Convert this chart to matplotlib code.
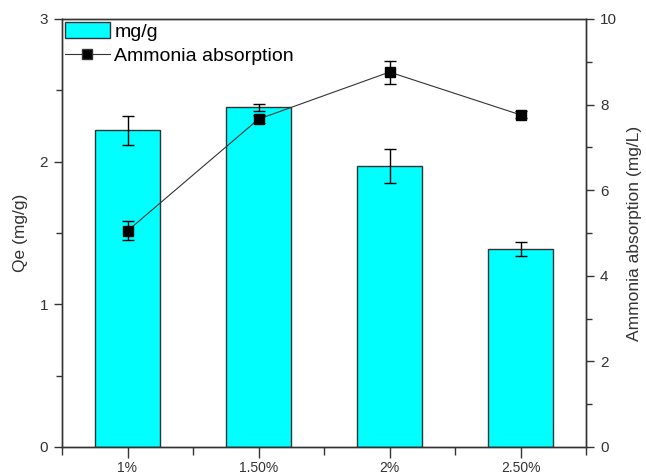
import matplotlib
matplotlib.use('Agg')
import matplotlib.pyplot as plt
from matplotlib.patches import Patch
from matplotlib.lines import Line2D
from matplotlib.ticker import MultipleLocator

plt.rcParams['font.family'] = ['Liberation Sans', 'DejaVu Sans']

# data
categories = ['1%', '1.50%', '2%', '2.50%']
qe = [2.22, 2.38, 1.97, 1.39]
qe_err = [0.10, 0.025, 0.12, 0.05]
ammonia = [5.05, 7.66, 8.76, 7.76]
ammonia_err = [0.22, 0.10, 0.27, 0.08]

x = list(range(len(categories)))
edge = '#333333'

fig = plt.figure(figsize=(6.46, 4.75), dpi=100)
ax = fig.add_axes([62/646, 28/475, 524/646, 428/475])

ax.bar(x, qe, width=0.5, color='#00ffff', edgecolor=edge, linewidth=1, zorder=2)
ax.errorbar(x, qe, yerr=qe_err, fmt='none', ecolor='black', elinewidth=1,
            capsize=4, capthick=1, zorder=3)

ax.set_xlim(-0.5, 3.5)
ax.set_ylim(0, 3)
ax.set_xticks(x)
ax.set_xticklabels(categories)
ax.set_xticks([-0.5, 0.5, 1.5, 2.5, 3.5], minor=True)
ax.yaxis.set_major_locator(MultipleLocator(1))
ax.yaxis.set_minor_locator(MultipleLocator(0.5))
ax.set_ylabel('Qe (mg/g)', fontsize=12.5, color=edge, labelpad=8)
ax.tick_params(axis='both', which='major', direction='out', length=6, width=1,
               labelsize=11, colors=edge, pad=4)
ax.tick_params(axis='both', which='minor', direction='out', length=4, width=1, colors=edge)
ax.tick_params(axis='x', which='major', length=8, pad=2, labelsize=10)
ax.tick_params(axis='x', which='minor', length=6)
for s in ax.spines.values():
    s.set_color(edge)
    s.set_linewidth(1)

ax2 = ax.twinx()
ax2.errorbar(x, ammonia, yerr=ammonia_err, fmt='none', ecolor='black', elinewidth=1,
             capsize=4, capthick=1, zorder=3)
ax2.plot(x, ammonia, color='#333333', linewidth=0.8, marker='s', markersize=6.5,
         markerfacecolor='black', markeredgecolor='black', zorder=4)
ax2.set_ylim(0, 10)
ax2.yaxis.set_major_locator(MultipleLocator(2))
ax2.yaxis.set_minor_locator(MultipleLocator(1))
ax2.set_ylabel('Ammonia absorption (mg/L)', fontsize=12.5, color=edge, labelpad=7)
ax2.tick_params(axis='y', which='major', direction='out', length=6, width=1,
                labelsize=11, colors=edge, pad=4)
ax2.tick_params(axis='y', which='minor', direction='out', length=4, width=1, colors=edge)
for s in ax2.spines.values():
    s.set_color(edge)
    s.set_linewidth(1)

handles = [Patch(facecolor='#00ffff', edgecolor=edge, linewidth=1),
           Line2D([], [], color='#333333', linewidth=0.8, marker='s', markersize=6.5,
                  markerfacecolor='black')]
ax2.legend(handles, ['mg/g', 'Ammonia absorption'], loc='upper left',
           bbox_to_anchor=(0.0, 1.0), frameon=False, fontsize=14,
           handlelength=2.3, handleheight=0.9, handletextpad=0.25,
           labelspacing=0.3, borderaxespad=0.1, borderpad=0.05)

fig.savefig('out.png', dpi=100)
